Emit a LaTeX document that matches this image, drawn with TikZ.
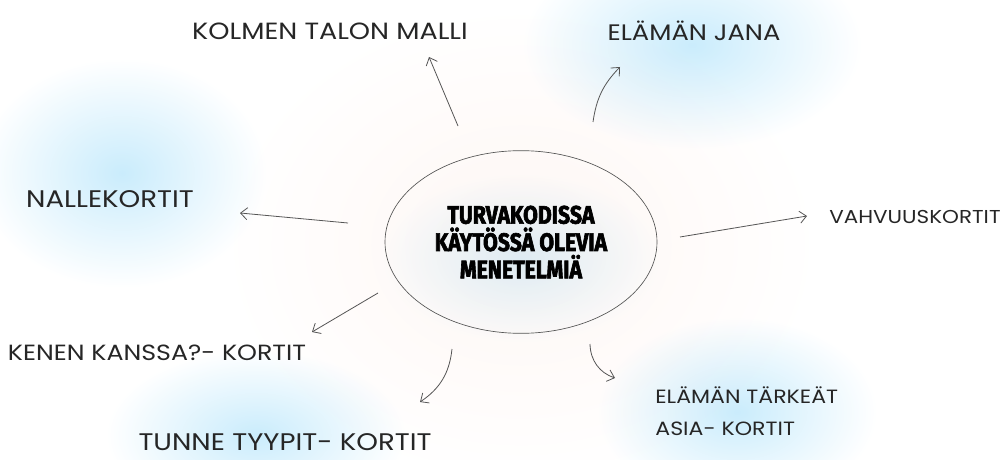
\documentclass[tikz,border=0pt]{standalone}
\usepackage{fontspec}
\setmainfont[FakeStretch=1.15]{Poppins}
\newfontfamily\headfont[FakeStretch=0.84,FakeBold=2.4]{Fira Sans}
\usepackage{tikz}
\usetikzlibrary{
	arrows.meta,
	shapes.geometric,
	positioning,
}
\definecolor{glowblue}{RGB}{202,236,252}
\definecolor{glowwarm}{RGB}{254,246,243}
\definecolor{linegray}{RGB}{85,85,85}
\tikzset{hub/.style={
		% The shape:
		ellipse,
		% The size:
		minimum width=204pt,
		minimum height=137pt,
		inner sep=0pt,
		% The border:
		draw=linegray,
		line width=0.5pt,
		% The text:
		align=center,
		font=\headfont\bfseries\fontsize{19pt}{20.5pt}\selectfont,
}}
\tikzset{method/.style={
		font=\fontsize{#1}{24pt}\selectfont,
		text=black!85,
		inner sep=0pt,
},method/.default=17.5pt}

\begin{document}
\begin{tikzpicture}[
	x=0.75pt,y=0.75pt,
	>={Straight Barb[length=5pt,width=9pt]},
	line width=0.6pt,linegray,
	text=black,
	]
	\useasboundingbox (0,0) rectangle (1004,-460);
	
	%% soft glows
	\begin{scope}[blend mode=multiply]
	\shade[inner color=glowwarm,outer color=white] (521,-245) ellipse [x radius=300,y radius=240];
	\shade[inner color=glowblue,outer color=white] (692,-45) ellipse [x radius=170,y radius=105];
	\shade[inner color=glowblue,outer color=white] (122,-173) ellipse [x radius=145,y radius=115];
	\shade[inner color=glowblue,outer color=white] (256,-435) ellipse [x radius=150,y radius=85];
	\shade[inner color=glowblue,outer color=white] (737,-412) ellipse [x radius=140,y radius=95];
	\shade[inner color=glowblue!60,outer color=white] (521,-258) ellipse [x radius=140,y radius=85];
	\end{scope}
	
	%% centre
	\node (hub)[hub] at (521,-242) {TURVAKODISSA\\KÄYTÖSSÄ OLEVIA\\MENETELMIÄ};
	
	%% methods
	\node (kolmen)[method=17.6pt] at (330,-31) {KOLMEN TALON MALLI};
	\node (jana)[method=16.8pt] at (694,-31) {ELÄMÄN JANA};
	\node (nalle)[method=18pt] at (110,-199) {NALLEKORTIT};
	\node (vahvuus)[method=14pt] at (915,-217) {VAHVUUSKORTIT};
	\node (kenen)[method=16.5pt] at (157,-353) {KENEN KANSSA?- KORTIT};
	\node (tunne)[method=18pt] at (285,-442) {TUNNE TYYPIT- KORTIT};
	\node (tarkeat)[method=14.4pt,anchor=west,align=left] at (655,-411) {ELÄMÄN TÄRKEÄT\\ASIA- KORTIT};
	
	%% arrow ends
	\coordinate (kolmen-t) at (458,-126);
	\coordinate (kolmen-h) at (429,-57);
	\coordinate (jana-t) at (593,-122);
	\coordinate (jana-h) at (620,-67);
	\coordinate (nalle-t) at (348,-223);
	\coordinate (nalle-h) at (240,-213);
	\coordinate (vahvuus-t) at (680,-237);
	\coordinate (vahvuus-h) at (807,-216);
	\coordinate (kenen-t) at (378,-293);
	\coordinate (kenen-h) at (312,-332);
	\coordinate (tunne-t) at (452,-349);
	\coordinate (tunne-h) at (420,-402);
	\coordinate (tarkeat-t) at (590,-344);
	\coordinate (tarkeat-h) at (615,-378);
	
	%% arrows
	\draw[->] (kolmen-t) to (kolmen-h);
	\draw[->,bend left=18] (jana-t) to (jana-h);
	\draw[->] (nalle-t) to (nalle-h);
	\draw[->] (vahvuus-t) to (vahvuus-h);
	\draw[->] (kenen-t) to (kenen-h);
	\draw[->,bend left=25] (tunne-t) to (tunne-h);
	\draw[->,bend right=35] (tarkeat-t) to (tarkeat-h);
	
\end{tikzpicture}
\end{document}
